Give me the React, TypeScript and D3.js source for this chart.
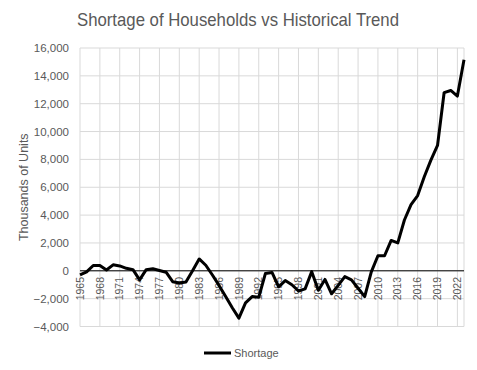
import React from "react";
import * as d3 from "d3";

const years: number[] = d3.range(1965, 2024);
const shortage: number[] = [
  -300, -80, 380, 380, 60, 430, 350, 180, 80, -650,
  80, 150, 20, -100, -780, -880, -800, 0, 850, 400,
  -300, -1050, -1850, -2650, -3400, -2300, -1850, -1900, -200, -120,
  -1150, -700, -1000, -1450, -1300, -60, -1400, -620, -1650, -1050,
  -420, -650, -1250, -1850, -80, 1080, 1080, 2180, 2000, 3650,
  4750, 5400, 6750, 7950, 9000, 12800, 12950, 12550, 15150,
];
const yTicks: number[] = d3.range(-4000, 16001, 2000);
const xTickYears: number[] = d3.range(1965, 2024, 3);
const seriesName = "Shortage";
const title = "Shortage of Households vs Historical Trend";
const yTitle = "Thousands of Units";

export default function App() {
  const W = 477, H = 370;
  const x = d3.scaleLinear().domain([1965, 2023]).range([80, 464]);
  const y = d3.scaleLinear().domain([-4000, 16000]).range([326.5, 48]);
  const line = d3
    .line<number>()
    .x((_, i) => x(years[i]))
    .y((d) => y(d));
  const grid = "#d9d9d9";
  const txt = "#595959";
  const font = "'Liberation Sans', Arial, sans-serif";
  return (
    <svg
      width={W}
      height={H}
      style={{ position: "absolute", left: 0, top: 0, background: "#fff" }}
      fontFamily={font}
    >
      <rect x={0} y={0} width={W} height={H} fill="#fff" />
      <text
        x={238}
        y={26}
        textAnchor="middle"
        fontSize={18.5}
        fill={txt}
        textLength={322}
        lengthAdjust="spacingAndGlyphs"
      >
        {title}
      </text>
      {yTicks.map((t) => (
        <g key={t}>
          <line x1={80} x2={464} y1={y(t)} y2={y(t)} stroke={grid} strokeWidth={1} />
          <text x={69} y={y(t)} dy="0.35em" textAnchor="end" fontSize={11.5} fill={txt}>
            {d3.format(",")(t)}
          </text>
        </g>
      ))}
      {xTickYears.map((yr) => (
        <line key={yr} x1={x(yr)} x2={x(yr)} y1={y(16000)} y2={y(-4000)} stroke={grid} strokeWidth={1} />
      ))}
      <line x1={464} x2={464} y1={y(16000)} y2={y(-4000)} stroke={grid} strokeWidth={1} />
      {xTickYears.map((yr) => (
        <text
          key={"l" + yr}
          transform={`translate(${x(yr)},277) rotate(-90)`}
          dy="0.35em"
          textAnchor="end"
          fontSize={10.5}
          fill={txt}
        >
          {yr}
        </text>
      ))}
      <line x1={80} x2={464} y1={y(0)} y2={y(0)} stroke="#000" strokeWidth={1} />
      <path d={line(shortage) || ""} fill="none" stroke="#000" strokeWidth={3} strokeLinejoin="round" />
      <text
        transform={`translate(28,${(y(16000) + y(-4000)) / 2}) rotate(-90)`}
        textAnchor="middle"
        fontSize={12.5}
        fill={txt}
      >
        {yTitle}
      </text>
      <line x1={204} x2={231} y1={353} y2={353} stroke="#000" strokeWidth={3} />
      <text x={234} y={353} dy="0.35em" fontSize={11} fill={txt}>
        {seriesName}
      </text>
    </svg>
  );
}
